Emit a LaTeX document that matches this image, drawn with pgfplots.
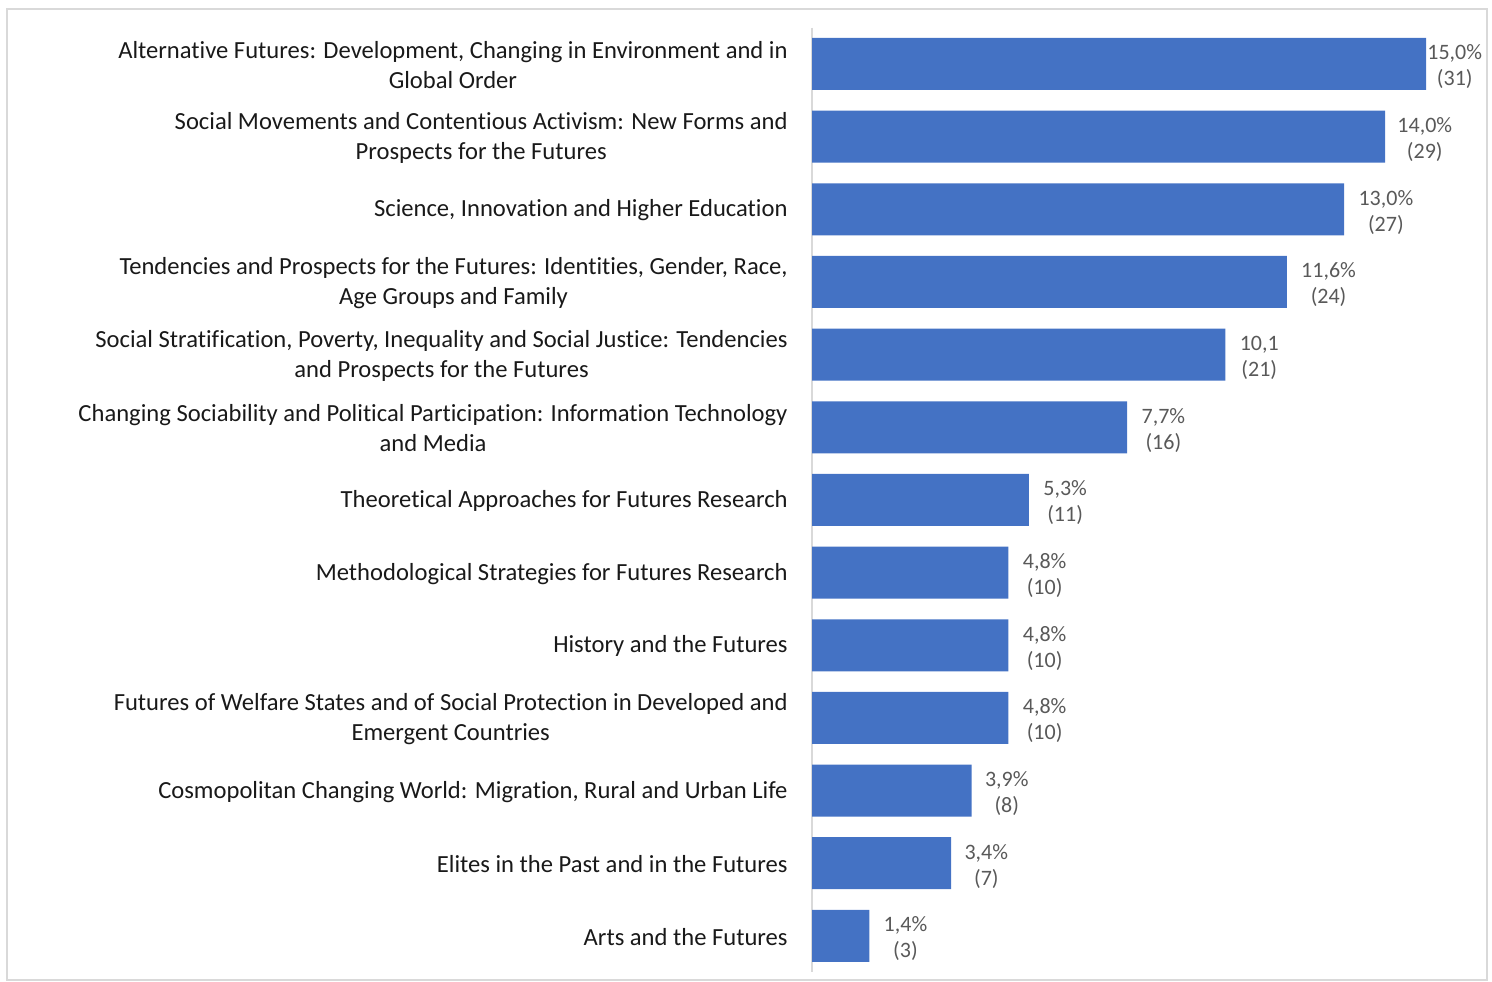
\documentclass[border=0pt]{standalone}
\usepackage{pgfplots}
\pgfplotsset{compat=1.18}
\usepackage{pgfplotstable}
\usepackage{fontspec}
\setmainfont{Carlito}[Ligatures=NoCommon]
\definecolor{barblue}{HTML}{4472C4}
\definecolor{lblgray}{HTML}{595959}
\definecolor{framegray}{HTML}{D9D9D9}
\pgfplotstableread{
y x n sh pc
0 15.0 31 0.5 1
1 14.0 29 6 1
2 13.0 27 7 1
3 11.6 24 7 1
4 10.1 21 7 0
5 7.7 16 7 1
6 5.3 11 7 1
7 4.8 10 7 1
8 4.8 10 7 1
9 4.8 10 7 1
10 3.9 8 6.5 1
11 3.4 7 6.5 1
12 1.4 3 7 1
}\datatable
\begin{document}
\begin{tikzpicture}
\useasboundingbox (0,0) rectangle (746pt,-490.5pt);
\draw[framegray, line width=0.8pt] (3.5pt,-4.5pt) rectangle (743.5pt,-490pt);
\begin{axis}[
  at={(406pt,-13.8pt)}, anchor=north west,
  scale only axis, width=339.75pt, height=472.3pt,
  xmin=0, xmax=16.6, ymin=-0.5, ymax=12.5, y dir=reverse,
  xbar, bar width=26pt,
  axis x line=none, axis y line=left,
  y axis line style={-, draw=framegray, line width=1pt},
  ytick={0,...,12}, major tick length=0pt,
  yticklabels={
    {Alternative Futures: Development, Changing in Environment and in\\Global Order},
    {Social Movements and Contentious Activism: New Forms and\\Prospects for the Futures},
    {Science, Innovation and Higher Education},
    {Tendencies and Prospects for the Futures: Identities, Gender, Race,\\Age Groups and Family},
    {Social Stratification, Poverty, Inequality and Social Justice: Tendencies\\and Prospects for the Futures},
    {Changing Sociability and Political Participation: Information Technology\\and Media},
    {Theoretical Approaches for Futures Research},
    {Methodological Strategies for Futures Research},
    {History and the Futures},
    {Futures of Welfare States and of Social Protection in Developed and\\Emergent Countries},
    {Cosmopolitan Changing World: Migration, Rural and Urban Life},
    {Elites in the Past and in the Futures},
    {Arts and the Futures}
  },
  yticklabel style={align=center, anchor=east, font=\fontsize{12.3}{15}\selectfont, text=black!90, inner sep=0pt, xshift=-12pt, yshift=-0.5pt},
  clip=false,
  /pgf/number format/assume math mode=true,
  point meta=x,
  visualization depends on={\thisrow{sh} \as \myshift},
  visualization depends on={\thisrow{n} \as \mycnt},
  visualization depends on={\thisrow{pc} \as \mypc},
  nodes near coords={\pgfmathprintnumber[fixed,fixed zerofill,precision=1,use comma]{\pgfplotspointmeta}\ifdim\mypc pt>0.5pt\relax\%\fi\\(\pgfmathprintnumber[fixed,precision=0]{\mycnt})},
  every node near coord/.append style={anchor=west, align=center, font=\fontsize{11}{13}\selectfont, text=lblgray, inner sep=0pt, xshift=\myshift pt, yshift=-1.5pt},
]
\addplot[fill=barblue, draw=none] table[x=x,y=y]{\datatable};
\end{axis}
\end{tikzpicture}
\end{document}
